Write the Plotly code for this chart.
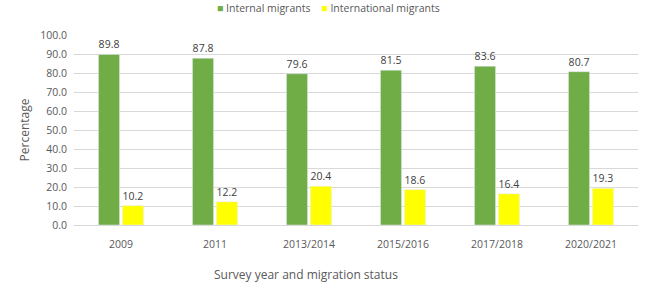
import plotly.graph_objects as go

categories = ["2009", "2011", "2013/2014", "2015/2016", "2017/2018", "2020/2021"]
internal = [89.8, 87.8, 79.6, 81.5, 83.6, 80.7]
international = [10.2, 12.2, 20.4, 18.6, 16.4, 19.3]
y_ticks = [0, 10, 20, 30, 40, 50, 60, 70, 80, 90, 100]

font_family = "Open Sans, Liberation Sans, sans-serif"
grey = "#595959"
green = "#70AD47"
yellow = "#FFFF00"

L, R, T, B = 74, 12, 35, 64
W, H = 650, 289
PW = W - L - R
PH = H - T - B

fig = go.Figure()
fig.add_trace(go.Bar(
    x=categories, y=internal, name="Internal migrants",
    marker_color=green,
    text=[f"{v:.1f}" for v in internal], textposition="outside",
    textfont=dict(size=10.5, color="#404040"), cliponaxis=False,
))
fig.add_trace(go.Bar(
    x=categories, y=international, name="International migrants",
    marker_color=yellow,
    text=[f"{v:.1f}" for v in international], textposition="outside",
    textfont=dict(size=10.5, color="#404040"), cliponaxis=False,
))

fig.update_layout(
    width=W, height=H,
    margin=dict(l=L, r=R, t=T, b=B),
    paper_bgcolor="white", plot_bgcolor="white",
    font=dict(family=font_family, size=11, color=grey),
    barmode="group", bargap=0.49, bargroupgap=0.12,
    showlegend=False,
)
fig.update_yaxes(range=[0, 100], tickvals=y_ticks,
                 ticktext=[f"{v:.1f}" for v in y_ticks],
                 showgrid=True, gridcolor="#D9D9D9", gridwidth=1,
                 zeroline=False, showline=False, ticks="", ticklen=0,
                 automargin=False, ticklabelstandoff=6,
                 title=dict(text="Percentage", font=dict(size=12, color=grey), standoff=8),
                 tickfont=dict(size=10.5, color=grey))
fig.update_xaxes(showline=True, linecolor="#D9D9D9", ticks="", automargin=False,
                 ticklabelstandoff=9,
                 tickfont=dict(size=10.5, color=grey))

# legend drawn as a text row at the top
legend_text = (f'<span style="color:{green}">■</span> Internal migrants'
               f'&nbsp;&nbsp;&nbsp;&nbsp;<span style="color:{yellow}">■</span> International migrants')
fig.add_annotation(text=legend_text, xref="paper", yref="paper",
                   x=(328 - L) / PW, y=1 + (T - 8) / PH, xanchor="center", yanchor="middle",
                   showarrow=False, font=dict(size=10.5, color=grey))

fig.add_annotation(text="Survey year and migration status", xref="paper", yref="paper",
                   x=(306 - L) / PW, y=-(274 - (T + PH)) / PH, xanchor="center", yanchor="middle",
                   showarrow=False, font=dict(size=12, color=grey))

fig.write_html("out.html", config={"displayModeBar": False},
               post_script="document.body.style.margin='0';")
